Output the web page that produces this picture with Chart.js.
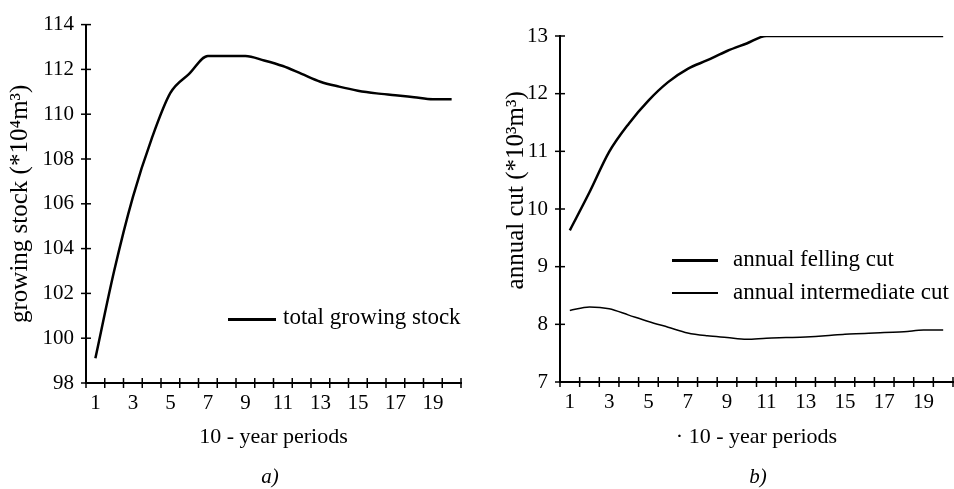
<!DOCTYPE html>
<html>
<head>
<meta charset="utf-8">
<script src="https://cdn.jsdelivr.net/npm/chart.js@4.4.0/dist/chart.umd.min.js"></script>
<style>
    body { margin: 0; background: #fff; width: 954px; height: 489px; position: relative; overflow: hidden; font-family: "Liberation Serif", serif; color: #000; }
    .box { position: absolute; top: 0; height: 489px; }
    .legend-line { position: absolute; background: #000; }
    .legend-text { position: absolute; font-size: 23px; line-height: 26px; white-space: nowrap; }
    .caption { position: absolute; font-size: 21px; font-style: italic; transform: translateX(-50%); }
</style>
</head>
<body>
<div class="box" style="left:0; width:480px;"><canvas id="stockChart" width="480" height="489"></canvas></div>
<div class="box" style="left:480px; width:474px;"><canvas id="cutChart" width="474" height="489"></canvas></div>

<div class="legend-line" style="left:228px; top:318px; width:48px; height:3px;"></div>
<div class="legend-text" style="left:283px; top:304px;">total growing stock</div>

<div class="legend-line" style="left:672px; top:259px; width:46px; height:3px;"></div>
<div class="legend-text" style="left:733px; top:246px;">annual felling cut</div>
<div class="legend-line" style="left:672px; top:292px; width:46px; height:1.5px;"></div>
<div class="legend-text" style="left:733px; top:279px;">annual intermediate cut</div>

<div class="caption" style="left:270px; top:464px;">a)</div>
<div class="caption" style="left:758px; top:464px;">b)</div>

<script>
// 10-year periods
const periods = ['1', '2', '3', '4', '5', '6', '7', '8', '9', '10',
                 '11', '12', '13', '14', '15', '16', '17', '18', '19', '20'];
const shownPeriods = ['1', '3', '5', '7', '9', '11', '13', '15', '17', '19'];

// a) growing stock (*10^4 m3)
const growingStock = [99.1, 103.0, 106.3, 108.9, 110.95, 111.8, 112.6, 112.6, 112.6, 112.4,
                      112.15, 111.8, 111.45, 111.23, 111.05, 110.93, 110.85, 110.76, 110.67, 110.67];

// b) annual cut (*10^3 m3)
const fellingCut = [9.63, 10.29, 10.99, 11.48, 11.88, 12.2, 12.43, 12.58, 12.74, 12.87,
                    13.0, 13.0, 13.0, 13.0, 13.0, 13.0, 13.0, 13.0, 13.0, 13.0];
const intermediateCut = [8.24, 8.30, 8.27, 8.16, 8.05, 7.95, 7.85, 7.80, 7.77, 7.74,
                         7.76, 7.77, 7.78, 7.80, 7.83, 7.84, 7.86, 7.87, 7.90, 7.90];

const serif = '"Liberation Serif", serif';
Chart.defaults.font.family = serif;
Chart.defaults.color = '#000';

// tick marks that cross the axis lines
const crossTicks = {
    id: 'crossTicks',
    afterDraw(chart) {
        const { ctx, scales: { x, y } } = chart;
        ctx.save();
        ctx.strokeStyle = '#000';
        ctx.lineWidth = 1.5;
        const n = x.ticks.length;
        const w = (x.right - x.left) / n;
        for (let i = 0; i <= n; i++) {
            const px = x.left + i * w;
            ctx.beginPath();
            ctx.moveTo(px, x.top - 5);
            ctx.lineTo(px, x.top + 5);
            ctx.stroke();
        }
        y.ticks.forEach(t => {
            const py = y.getPixelForValue(t.value);
            ctx.beginPath();
            ctx.moveTo(y.right - 5, py);
            ctx.lineTo(y.right + 5, py);
            ctx.stroke();
        });
        ctx.restore();
    }
};

function buildOptions(cfg) {
    return {
        responsive: false,
        animation: false,
        layout: { padding: { top: cfg.top, right: cfg.right, left: 0, bottom: 0 } },
        plugins: { legend: { display: false }, tooltip: { enabled: false } },
        elements: { point: { radius: 0 }, line: { cubicInterpolationMode: 'monotone' } },
        scales: {
            x: {
                type: 'category',
                offset: true,
                grid: { display: true, offset: true, drawOnChartArea: false, drawTicks: false },
                border: { display: true, color: '#000', width: 2 },
                ticks: {
                    autoSkip: false,
                    maxRotation: 0,
                    padding: 8,
                    font: { size: 21 },
                    callback: function (value) {
                        const lbl = this.getLabelForValue(value);
                        return shownPeriods.includes(lbl) ? lbl : '';
                    }
                },
                title: { display: true, text: cfg.xTitle, font: { size: 22 }, padding: { top: 0, bottom: 39 } },
                afterFit: s => { s.height = cfg.xHeight; }
            },
            y: {
                min: cfg.yMin,
                max: cfg.yMax,
                grid: { display: true, drawOnChartArea: false, drawTicks: false },
                border: { display: true, color: '#000', width: 2 },
                ticks: { stepSize: cfg.step, padding: 12, font: { size: 21 } },
                title: { display: true, text: cfg.yTitle, font: { size: 25 }, padding: { top: cfg.yTitlePad, bottom: 0 } },
                afterFit: s => { s.width = cfg.yWidth; }
            }
        }
    };
}

new Chart(document.getElementById('stockChart'), {
    type: 'line',
    data: {
        labels: periods,
        datasets: [{
            label: 'total growing stock',
            data: growingStock,
            borderColor: '#000',
            borderWidth: 2.5,
            fill: false
        }]
    },
    options: buildOptions({
        top: 20, right: 19, yMin: 98, yMax: 114, step: 2,
        yWidth: 86, xHeight: 106, yTitlePad: 5,
        yTitle: 'growing stock (*10⁴m³)', xTitle: '10 - year periods'
    }),
    plugins: [crossTicks]
});

new Chart(document.getElementById('cutChart'), {
    type: 'line',
    data: {
        labels: periods,
        datasets: [{
            label: 'annual felling cut',
            data: fellingCut,
            borderColor: '#000',
            borderWidth: 2.5,
            fill: false
        }, {
            label: 'annual intermediate cut',
            data: intermediateCut,
            borderColor: '#000',
            borderWidth: 1.5,
            fill: false
        }]
    },
    options: buildOptions({
        top: 36, right: 1, yMin: 7, yMax: 13, step: 1,
        yWidth: 80, xHeight: 107, yTitlePad: 21,
        // leading spaces push the rotated title up, as in the original
        yTitle: '\u00a0\u00a0\u00a0\u00a0\u00a0\u00a0annual cut (*10³m³)', xTitle: '· 10 - year periods'
    }),
    plugins: [crossTicks]
});
</script>
</body>
</html>
